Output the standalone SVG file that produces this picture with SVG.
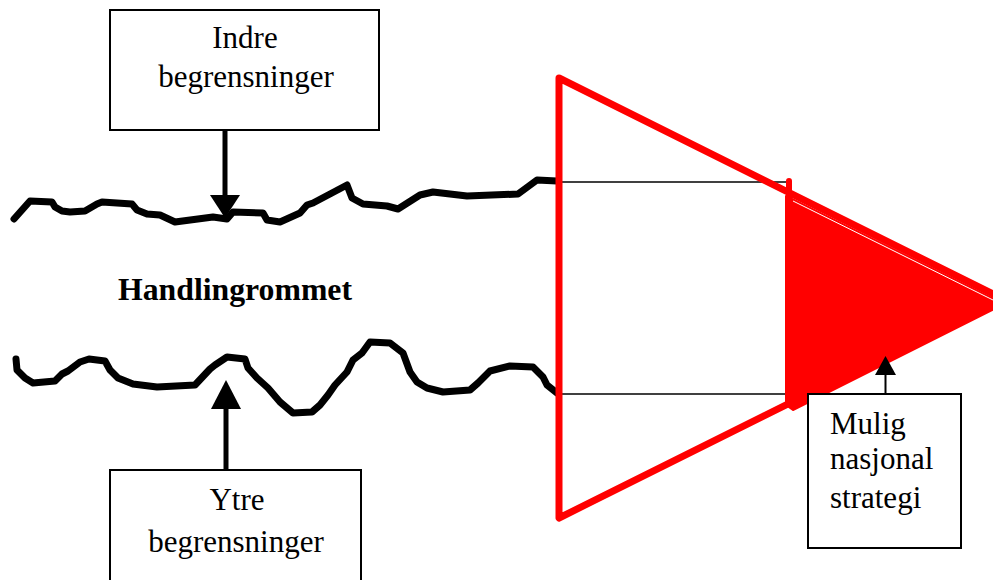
<svg xmlns="http://www.w3.org/2000/svg" width="993" height="580" viewBox="0 0 993 580">
<style>
.wave{fill:none;stroke:#000;stroke-width:7;stroke-linejoin:round;stroke-linecap:round}
.box{fill:#fff;stroke:#000;stroke-width:2}
.lbl{font-family:"Liberation Serif","Times New Roman",serif;font-size:31px;fill:#000}
.thin{stroke:#000;stroke-width:1.5;fill:none}
.red{stroke:#f00;stroke-linejoin:round;stroke-linecap:round}
</style>
<rect width="993" height="580" fill="#fff"/>
<g id="waves">
<polyline class="wave" points="14,219 30,201 52,202 55,207 62,211 70,212 85,211 97,204 102,202 132,204 137,210 147,214 160,215 175,222 213,217 227,219 233,212 263,213 267,220 280,222 300,213 307,205 313,203 347,185 352,198 363,204 387,206 398,209 420,195 433,192 467,196 518,194 537,180 557,181"/>
<polyline class="wave" points="16,359 17,370 25,378 33,383 55,381 62,374 68,371 80,362 89,359 105,361 110,370 118,378 133,384 157,387 195,385 210,369 215,365 227,357 245,359 248,368 257,378 268,388 280,402 293,413 312,412 320,405 328,395 335,385 347,372 353,360 362,353 370,342 390,343 403,353 410,372 417,382 427,388 443,392 470,390 478,383 490,371 510,366 533,367 543,377 547,385 557,393"/>
</g>
<g id="space-lines">
<line class="thin" x1="559" y1="182" x2="789" y2="182"/>
<line class="thin" x1="559" y1="394" x2="808" y2="394"/>
</g>
<g id="strategy-cone">
<polygon class="red" points="559,78 1001,298 559,518" fill="none" stroke-width="7"/>
<polygon class="red" points="786,196 1004,304 793,410 786,405" fill="#f00" stroke-width="2"/>
<line class="red" x1="789" y1="181" x2="789" y2="397" stroke-width="6"/>
<line x1="793" y1="201" x2="993" y2="300" stroke="#fff" stroke-width="1"/>
</g>
<text class="lbl" x="118" y="300" font-weight="bold" font-size="26" textLength="234" lengthAdjust="spacingAndGlyphs">Handlingrommet</text>
<g id="indre">
<rect class="box" x="110" y="10" width="269" height="120"/>
<text class="lbl" x="245" y="48" text-anchor="middle">Indre</text>
<text class="lbl" x="246" y="87" text-anchor="middle">begrensninger</text>
</g>
<g id="ytre">
<rect class="box" x="110" y="470" width="251" height="130"/>
<text class="lbl" x="237" y="510" text-anchor="middle">Ytre</text>
<text class="lbl" x="236" y="552" text-anchor="middle">begrensninger</text>
</g>
<g id="mulig">
<rect class="box" x="808" y="394" width="153" height="154"/>
<text class="lbl" x="830" y="434">Mulig</text>
<text class="lbl" x="830" y="469">nasjonal</text>
<text class="lbl" x="830" y="508">strategi</text>
</g>
<g id="connectors">
<line x1="225" y1="130" x2="225" y2="197" stroke="#000" stroke-width="5"/>
<polygon points="210,195 240,195 225,218" fill="#000"/>
<line x1="226" y1="406" x2="226" y2="470" stroke="#000" stroke-width="5"/>
<polygon points="211,409 241,409 226,380" fill="#000"/>
<line x1="885.5" y1="373" x2="885.5" y2="394" stroke="#000" stroke-width="2"/>
<polygon points="875,375 896,375 885.5,356" fill="#000"/>
</g>
</svg>
